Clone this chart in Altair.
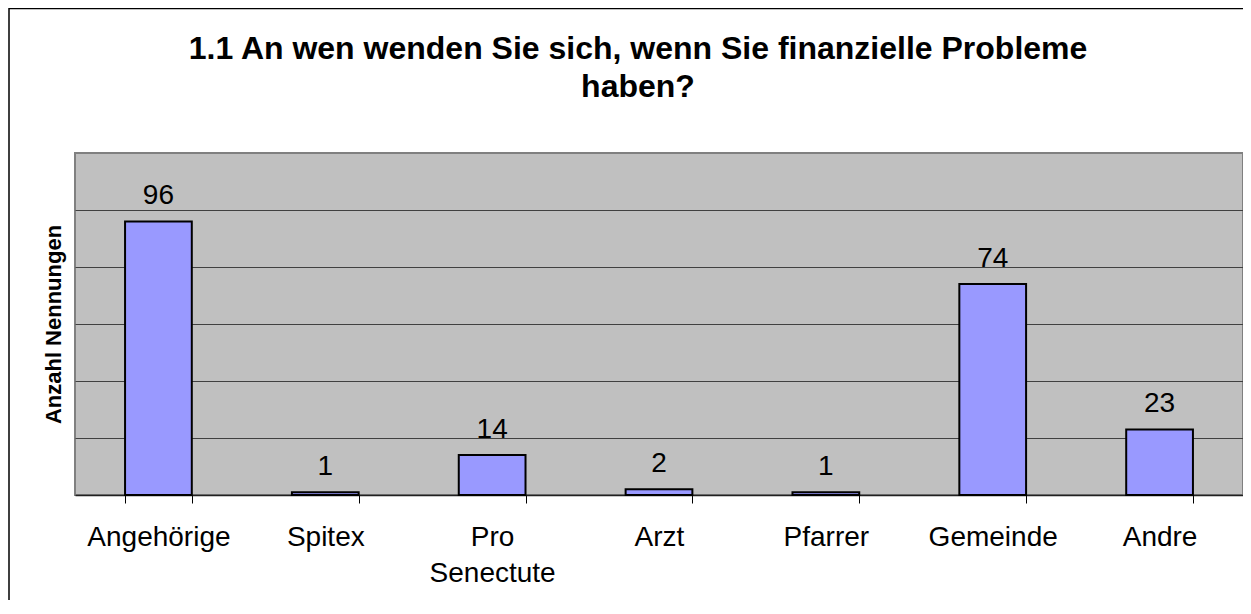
import altair as alt
import pandas as pd

categories = ["Angehörige", "Spitex", "Pro Senectute", "Arzt", "Pfarrer", "Gemeinde", "Andre"]
values = [96, 1, 14, 2, 1, 74, 23]
title_lines = ["1.1 An wen wenden Sie sich, wenn Sie finanzielle Probleme", "haben?"]
y_title = "Anzahl Nennungen"
grid_values = [20, 40, 60, 80, 100]

df = pd.DataFrame({"cat": categories, "val": values})
FONT = "Liberation Sans"

x_enc = alt.X(
    "cat:N",
    sort=categories,
    scale=alt.Scale(paddingInner=0.6, paddingOuter=0.3),
    axis=alt.Axis(
        title=None,
        labelAngle=0,
        labelFont=FONT,
        labelFontSize=28,
        labelColor="black",
        labelPadding=20,
        labelLineHeight=36,
        labelExpr="datum.label == 'Pro Senectute' ? ['Pro', 'Senectute'] : datum.label",
        tickBand="extent",
        tickSize=8,
        tickColor="black",
        domainColor="#202020",
        domainWidth=1.5,
        grid=False,
    ),
)
y_enc = alt.Y(
    "val:Q",
    scale=alt.Scale(domain=[0, 120], nice=False),
    axis=alt.Axis(
        title=y_title,
        titleFont=FONT,
        titleFontSize=22,
        titleFontWeight="bold",
        titleColor="black",
        titlePadding=10,
        labels=False,
        ticks=False,
        tickSize=0,
        domain=False,
        grid=True,
        gridColor="#404040",
        gridWidth=1,
        values=grid_values,
    ),
)

base = alt.Chart(df).encode(x=x_enc, y=y_enc)
bars = base.mark_bar(color="#9999FF", stroke="black", strokeWidth=2)
labels = base.mark_text(
    font=FONT, fontSize=28, color="black", baseline="alphabetic", dy=-17
).encode(text="val:Q")

border = alt.Chart(alt.Data(values=[{"a": 1}])).mark_rect(
    fill="transparent", stroke="black", strokeWidth=1.5
).encode(
    x=alt.value(-66), x2=alt.value(1400), y=alt.value(-144.5), y2=alt.value(700)
)

chart = alt.layer(border, bars, labels).properties(
    width=1168,
    height=342,
    autosize=alt.AutoSizeParams(type="none"),
    padding={"left": 67, "top": 145, "right": 0, "bottom": 105},
    title=alt.TitleParams(
        text=title_lines,
        font=FONT,
        fontSize=32,
        fontWeight="bold",
        color="black",
        anchor="middle",
        dx=-21,
        dy=96,
        offset=0,
        lineHeight=38,
    ),
).configure(
    background="white",
    view=alt.ViewConfig(fill="#C0C0C0", stroke="#808080", strokeWidth=2),
)

chart.save("out.html", embed_options={"renderer": "svg", "actions": False})
